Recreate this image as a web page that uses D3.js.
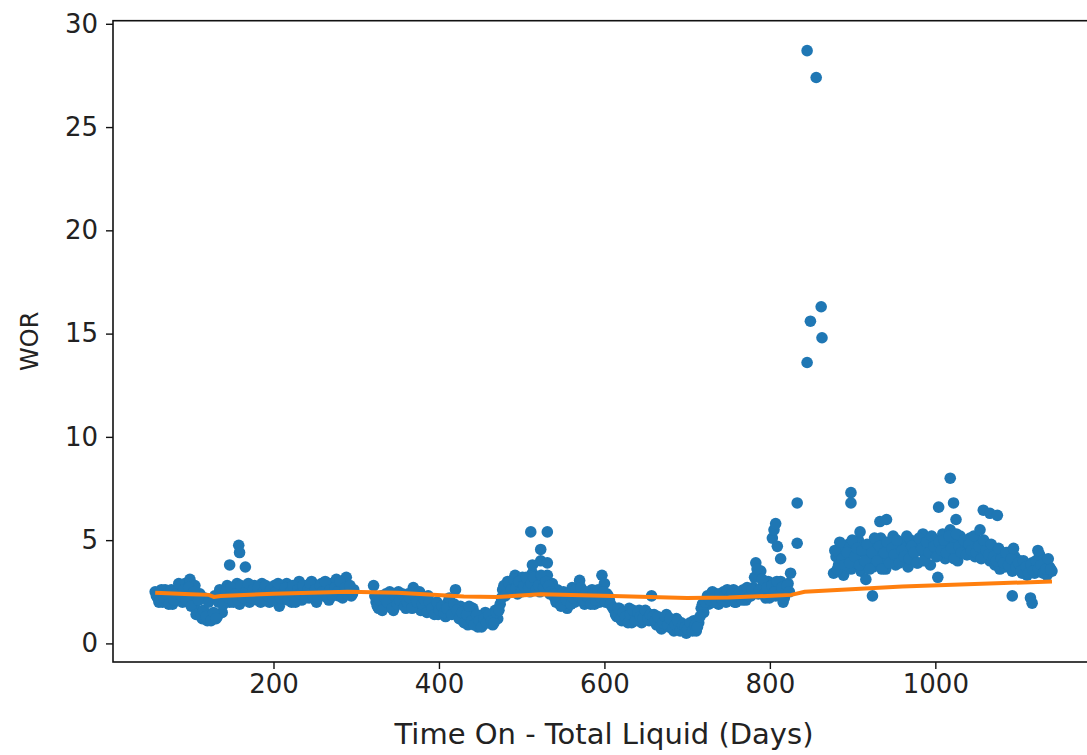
<!DOCTYPE html>
<html>
<head>
<meta charset="utf-8">
<script src="https://cdn.jsdelivr.net/npm/d3@7"></script>
<style>
  body { margin: 0; background: #fff; }
  svg { display: block; }
  .tick text { font-family: "DejaVu Sans", sans-serif; font-size: 26px; fill: #222; }
</style>
</head>
<body>
<svg id="chart" width="1087" height="755"></svg>
<script>
// daily samples, 3-day spacing, three runs separated by data gaps
var days1 = d3.range(57, 298, 3);
var wor1 = [
  2.5, 2.2, 2.4, 2.0, 2.6, 2.1, 2.3, 1.9, 2.5, 2.2,
  2.7, 2.0, 2.9, 2.3, 3.1, 2.1, 2.8, 1.6, 2.4, 1.2,
  2.2, 1.1, 1.4, 1.2, 2.3, 1.3, 2.6, 1.5, 2.2, 2.8,
  2.0, 2.5, 2.2, 2.9, 1.9, 2.6, 2.3, 2.7, 2.0, 2.4,
  2.8, 2.1, 2.5, 2.9, 2.2, 2.6, 2.0, 2.4, 2.8, 2.3,
  1.8, 2.6, 2.2, 2.9, 2.4, 2.0, 2.7, 2.3, 3.0, 2.1,
  2.5, 2.8, 2.2, 3.0, 2.4, 2.0, 2.6, 2.9, 2.3, 2.7,
  2.1, 2.9, 2.5, 3.1, 2.3, 2.8, 2.4, 3.2, 2.6, 2.3,
  2.6
];
var days1b = d3.range(58.5, 298, 3);
var wor1b = [
  2.3, 2.0, 2.6, 2.2, 2.4, 1.9, 2.6, 2.1, 2.4, 2.9,
  2.3, 2.6, 2.1, 2.7, 1.8, 2.5, 1.4, 2.1, 1.3, 1.6,
  1.3, 2.0, 1.1, 1.5, 1.2, 2.0, 2.4, 1.9, 2.5, 2.2,
  2.7, 2.0, 2.4, 2.1, 2.8, 2.2, 2.5, 2.9, 2.2, 2.6,
  2.3, 2.7, 2.0, 2.5, 2.8, 2.3, 2.6, 2.1, 2.5, 2.9,
  2.2, 2.4, 2.7, 2.1, 2.5, 2.8, 2.0, 2.6, 2.4, 2.8,
  2.2, 2.6, 2.9, 2.3, 2.6, 2.2, 2.8, 2.5, 3.0, 2.2,
  2.6, 2.3, 2.7, 2.5, 3.0, 2.2, 2.7, 2.4, 2.8, 2.4
];

var days2 = d3.range(321, 826, 3);
var wor2 = [
  2.8, 2.0, 1.7, 2.3, 1.9, 2.4, 1.8, 2.2, 1.6, 2.1,
  2.5, 1.9, 2.2, 1.7, 2.4, 2.0, 2.7, 1.8, 2.2, 1.6,
  2.0, 1.8, 2.3, 1.7,
  1.5, 1.9, 1.4, 1.8, 1.6, 1.3, 2.0, 1.5, 1.7, 2.6,
  1.4, 1.8, 1.1, 1.6, 0.9, 1.3, 1.7, 1.0, 0.8, 1.2,
  0.9, 1.5, 1.0, 1.3, 0.9, 1.6, 1.2,
  1.9, 2.6, 2.3, 3.0, 2.5, 2.8, 3.3, 2.4, 2.9, 3.2,
  2.6, 3.0, 2.5, 3.4, 2.8, 3.1, 2.5, 3.0, 2.6, 3.3,
  2.4, 2.9,
  2.2, 2.6, 1.9, 2.4, 2.0, 1.7, 2.3, 2.7, 2.0, 2.5,
  3.05, 2.2, 1.9, 2.4, 2.1, 2.6, 1.9, 2.3, 2.0, 3.3,
  2.9, 2.4, 2.1, 1.8,
  1.6, 1.3, 1.7, 1.1, 1.5, 1.2, 1.7, 1.0, 1.4, 1.2,
  1.6, 1.0, 1.3, 1.5, 1.1, 2.3,
  1.4, 0.9, 1.2, 0.7, 1.1, 1.4, 0.8, 1.0, 0.6, 1.2,
  0.8, 1.0, 0.6, 0.5, 0.9, 0.7, 1.1, 0.6, 1.0, 1.7,
  1.5, 2.1, 1.9, 2.3, 2.0, 2.4, 1.9, 2.2, 2.5, 2.0,
  2.3, 2.1, 2.6, 2.0, 2.4, 2.2, 2.6, 2.1, 2.5, 2.3,
  2.7,
  3.9, 2.4, 3.5, 2.8, 2.2, 3.0, 2.5, 2.9, 2.3, 2.7,
  3.0, 2.0, 2.6, 2.9, 3.4
];
var days2b = d3.range(322.5, 825, 3);
var wor2b = [
  2.3, 1.8, 2.1, 1.6, 2.2, 2.0, 2.5, 1.7, 2.3, 1.9,
  2.1, 2.4, 1.8, 2.0, 2.2, 1.7, 2.3, 2.0, 2.5, 1.9,
  2.1, 1.5, 2.0,
  1.7, 1.4, 2.0, 1.6, 1.8, 1.5, 1.7, 2.2, 1.4, 1.9,
  1.6, 1.2, 1.5, 1.0, 1.4, 1.8, 1.1, 0.9, 1.4, 1.1,
  0.8, 1.2, 1.0, 1.4, 1.1, 1.0, 1.5,
  1.6, 2.2, 2.8, 2.4, 2.9, 2.6, 3.1, 2.7, 3.0, 2.5,
  2.8, 3.2, 2.7, 2.9, 3.2, 2.6, 2.8, 3.3, 2.7, 3.0,
  2.8, 2.5,
  2.4, 2.0, 2.3, 1.8, 2.5, 2.1, 2.4, 1.9, 2.2, 2.6,
  2.3, 2.7, 2.1, 2.5, 2.2, 1.9, 2.4, 2.1, 2.6, 2.2,
  2.5, 2.0, 2.3, 1.9, 1.7,
  1.4, 1.7, 1.2, 1.5, 1.3, 1.0, 1.4, 1.6, 1.1, 1.5,
  1.3, 1.2, 1.6, 1.2, 1.4, 1.3,
  1.1, 1.3, 0.8, 1.0, 1.3, 0.9, 1.2, 0.7, 0.9, 1.1,
  0.6, 0.9, 0.8, 0.7, 1.0, 0.6, 0.9, 0.8, 1.3, 1.9,
  2.0, 2.3, 2.1, 2.5, 2.2, 2.0, 2.4, 2.1, 2.3, 2.6,
  2.2, 2.4, 2.0, 2.3, 2.5, 2.1, 2.4, 2.7, 2.3, 2.6,
  3.2,
  3.6, 2.6, 3.1, 2.4, 2.7, 2.2, 2.8, 2.5, 3.0, 2.4,
  2.7, 2.2, 2.8, 2.5
];

var days3 = d3.range(877, 1142, 3);
var wor3 = [
  3.4, 4.2, 3.8, 4.6, 3.3, 4.0, 4.8, 3.6, 4.3, 3.9,
  5.0, 3.5, 4.4, 3.1, 4.1, 4.7, 3.7, 4.3, 3.9, 5.1,
  4.0, 3.6, 4.5, 4.1, 5.2, 3.8, 4.4, 4.9, 4.0, 4.6,
  3.7, 5.0, 4.3, 4.8, 3.9, 4.5, 5.3, 4.2, 4.7, 3.8,
  4.4, 5.0, 3.2, 4.6, 5.3, 4.1, 4.8, 5.5, 4.3, 4.9,
  4.0, 5.2, 4.5, 4.9, 4.3, 5.1, 4.6, 4.2, 5.0, 4.4,
  4.8, 4.2, 4.6, 4.0, 4.5, 3.8, 4.3, 3.6, 4.1, 3.7,
  4.4, 3.9, 3.5, 4.2, 3.7, 4.0, 3.4, 3.8, 3.3, 3.6,
  3.9, 3.4, 3.7, 4.3, 3.5, 3.9, 3.3, 3.7, 3.5
];
var days3b = d3.range(878.5, 1141, 3);
var wor3b = [
  4.5, 3.6, 4.9, 4.1, 3.8, 4.4, 3.9, 5.0, 4.2, 4.6,
  3.8, 4.5, 4.0, 4.8, 3.6, 4.4, 5.1, 4.0, 4.7, 3.6,
  4.4, 4.9, 3.9, 4.6, 4.3, 5.0, 3.9, 4.5, 4.2, 5.2,
  4.1, 4.7, 4.4, 3.9, 5.1, 4.6, 4.0, 4.9, 4.4, 5.2,
  4.7, 4.2, 4.9, 4.5, 5.0, 4.4, 5.2, 4.6, 4.1, 5.3,
  4.7, 4.4, 5.0, 4.3, 4.8, 4.5, 5.2, 4.4, 4.7, 4.1,
  5.0, 4.5, 4.3, 4.8, 4.2, 4.0, 4.6, 4.1, 3.9, 4.4,
  3.8, 4.1, 4.6, 3.7, 3.9, 3.5, 4.0, 3.7, 3.4, 3.8,
  3.5, 4.0, 3.6, 3.8, 3.4, 3.6, 4.1, 3.6
];

// scattered single readings off the main band
var outDays = [147, 158, 159, 166, 511, 531, 523, 523, 513, 531,
               803, 805, 807, 809, 813, 833, 833,
               845, 856, 862, 849, 863, 845,
               898, 898, 933, 909, 924, 941, 1004, 1018, 1022, 1025,
               1054, 1058, 1066, 1075, 1093, 1115, 1117, 1124];
var outWor = [3.8, 4.75, 4.4, 3.7, 5.4, 5.4, 4.55, 4.0, 3.8, 3.9,
              5.1, 5.5, 5.8, 4.7, 4.1, 6.8, 4.85,
              28.7, 27.4, 16.3, 15.6, 14.8, 13.6,
              7.3, 6.8, 5.9, 5.4, 2.3, 6.0, 6.6, 8.0, 6.8, 6.0,
              5.5, 6.45, 6.3, 6.2, 2.3, 2.2, 1.95, 4.5];

// fitted trend
var trendDays = [57, 100, 122, 128, 136, 200, 290, 350, 430, 470, 523, 610, 700, 750, 826, 842, 960, 1141];
var trendWor = [2.45, 2.38, 2.35, 2.25, 2.3, 2.4, 2.5, 2.45, 2.27, 2.25, 2.38, 2.3, 2.2, 2.22, 2.35, 2.5, 2.75, 3.0];

var xTicks = [200, 400, 600, 800, 1000];
var yTicks = [0, 5, 10, 15, 20, 25, 30];

var points = [];
[[days1, wor1], [days1b, wor1b], [days2, wor2], [days2b, wor2b],
 [days3, wor3], [days3b, wor3b], [outDays, outWor]].forEach(function(s) {
  s[0].forEach(function(d, i) { points.push({day: d, wor: s[1][i]}); });
});

var svg = d3.select("#chart");
var plotL = 113, plotR = 1095, plotT = 20.7, plotB = 662;

var x = d3.scaleLinear().domain([6, 1193]).range([plotL, plotR]);
var y = d3.scaleLinear().domain([-0.9, 30.15]).range([plotB, plotT]);

svg.append("rect").attr("width", 1087).attr("height", 755).attr("fill", "#fff");

svg.append("g")
    .selectAll("circle")
    .data(points)
    .join("circle")
    .attr("cx", function(d) { return x(d.day); })
    .attr("cy", function(d) { return y(d.wor); })
    .attr("r", 5.8)
    .attr("fill", "#1f77b4");

svg.append("path")
    .datum(trendDays.map(function(d, i) { return [d, trendWor[i]]; }))
    .attr("fill", "none")
    .attr("stroke", "#ff7f0e")
    .attr("stroke-width", 4)
    .attr("d", d3.line().x(function(d) { return x(d[0]); }).y(function(d) { return y(d[1]); }));

// frame
svg.append("rect")
    .attr("x", plotL).attr("y", plotT)
    .attr("width", plotR - plotL).attr("height", plotB - plotT)
    .attr("fill", "none").attr("stroke", "#111").attr("stroke-width", 1.6);

var xAxis = svg.append("g")
    .attr("transform", "translate(0," + plotB + ")")
    .call(d3.axisBottom(x).tickValues(xTicks).tickFormat(d3.format("d")).tickSize(7).tickPadding(6));
xAxis.select(".domain").remove();

var yAxis = svg.append("g")
    .attr("transform", "translate(" + plotL + ",0)")
    .call(d3.axisLeft(y).tickValues(yTicks).tickFormat(d3.format("d")).tickSize(7).tickPadding(8));
yAxis.select(".domain").remove();

svg.selectAll(".tick line").attr("stroke", "#111").attr("stroke-width", 1.4);

svg.append("text")
    .attr("x", (plotL + plotR) / 2)
    .attr("y", 744)
    .attr("text-anchor", "middle")
    .style("font-family", "DejaVu Sans, sans-serif")
    .style("font-size", "29px")
    .attr("fill", "#222")
    .text("Time On - Total Liquid (Days)");

svg.append("text")
    .attr("transform", "translate(38," + ((plotT + plotB) / 2) + ") rotate(-90)")
    .attr("text-anchor", "middle")
    .style("font-family", "DejaVu Sans, sans-serif")
    .style("font-size", "24px")
    .attr("fill", "#222")
    .text("WOR");
</script>
</body>
</html>
